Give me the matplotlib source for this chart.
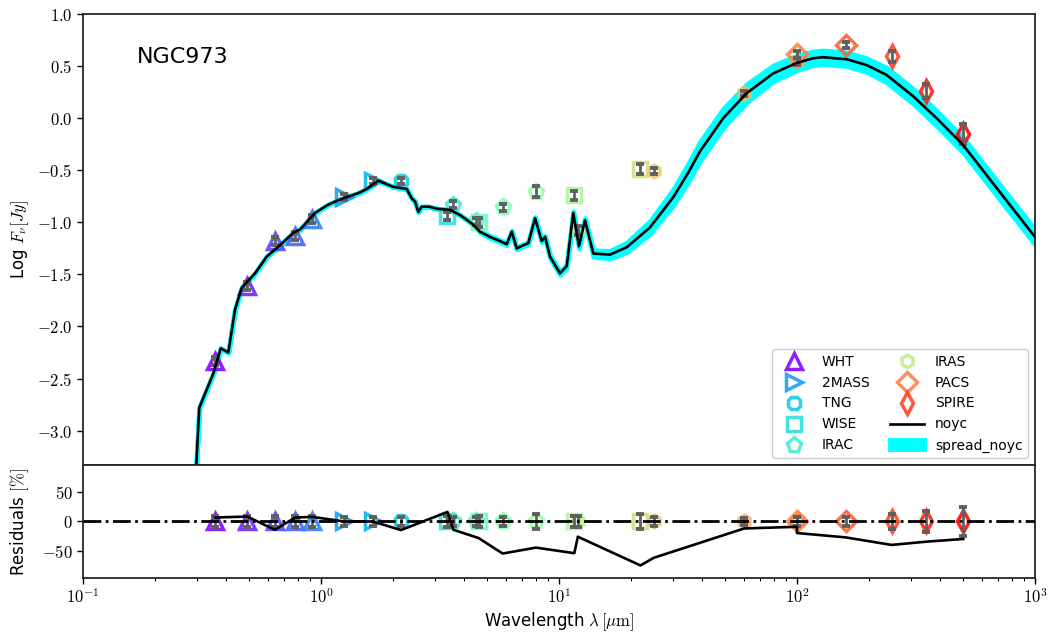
import numpy as np
import matplotlib
matplotlib.use("Agg")
import matplotlib.pyplot as plt
from matplotlib.ticker import FixedLocator, FuncFormatter, LogLocator, NullFormatter

plt.rcParams["mathtext.fontset"] = "cm"
plt.rcParams["font.family"] = "DejaVu Sans"

# photometry (wavelength in micron, log flux in Jy, error in percent)
phot_wave = [0.36, 0.49, 0.64, 0.78, 0.92, 1.25, 1.65, 2.17,
             3.4, 3.6, 4.5, 4.6, 5.8, 8.0, 11.6, 12.0, 22.0, 25.0,
             60.0, 100.0, 100.0, 160.0, 250.0, 350.0, 500.0]
phot_logf = [-2.33, -1.61, -1.18, -1.13, -0.97, -0.76, -0.60, -0.60,
             -0.94, -0.83, -0.99, -1.00, -0.855, -0.705, -0.74, -1.08, -0.49, -0.51,
             0.24, 0.545, 0.615, 0.70, 0.595, 0.26, -0.155]
phot_err = [10, 10, 10, 10, 10, 7, 7, 7,
            10, 8, 8, 10, 8, 12, 10, 10, 12, 7,
            6, 8, 8, 7, 13, 17, 25]
phot_inst = ["WHT", "WHT", "WHT", "WHT", "WHT", "2MASS", "2MASS", "TNG",
             "WISE", "IRAC", "IRAC", "WISE", "IRAC", "IRAC", "WISE", "IRAS", "WISE", "IRAS",
             "IRAS", "IRAS", "PACS", "PACS", "SPIRE", "SPIRE", "SPIRE"]
# residual of the model at each photometric point (percent)
model_resid = [6.7, 8.3, -13.9, 6.7, 7.8, 0.0, 0.0, -14.4,
               16.1, -13.9, -26.7, -28.0, -53.9, -43.9, -53.3, -25.6, -73.9, -61.1,
               -11.7, -8.9, -19.4, -26.7, -39.4, -33.9, -29.4]

instruments = ["WHT", "2MASS", "TNG", "WISE", "IRAC", "IRAS", "PACS", "SPIRE"]
inst_marker = {"WHT": "^", "2MASS": ">", "TNG": "8", "WISE": "s",
               "IRAC": "p", "IRAS": "h", "PACS": "D", "SPIRE": "d"}
inst_size = {"WHT": 11, "2MASS": 11, "TNG": 10, "WISE": 10,
             "IRAC": 11, "IRAS": 9, "PACS": 10, "SPIRE": 11}

# best-fit model "noyc"
model_wave = [0.295, 0.308, 0.353, 0.379, 0.408, 0.435, 0.464, 0.528, 0.591, 0.673,
              0.765, 0.816, 0.944, 1.073, 1.202, 1.434, 1.556, 1.741, 2.013, 2.292,
              2.405, 2.483, 2.564, 2.649, 2.843, 3.072, 3.483, 3.837, 4.298, 4.656,
              5.13, 5.65, 6.03, 6.33, 6.64, 7.08, 7.43, 7.93, 8.46, 8.74,
              9.17, 10.1, 10.78, 11.48, 12.13, 12.86, 13.94, 16.38, 19.25, 24.1,
              30.2, 35.0, 39.1, 49.0, 61.5, 79.5, 99.7, 117.0, 129.0, 162.0, 196.0,
              238.0, 308.0, 386.0, 500.0, 690.0, 1000.0]
model_logf = [-3.60, -2.78, -2.45, -2.21, -2.25, -1.84, -1.63, -1.49, -1.33, -1.22,
              -1.10, -1.07, -0.91, -0.83, -0.78, -0.72, -0.68, -0.60, -0.66, -0.68,
              -0.77, -0.80, -0.90, -0.85, -0.85, -0.87, -0.88, -0.93, -1.01, -1.09,
              -1.14, -1.18, -1.21, -1.09, -1.25, -1.22, -1.20, -0.96, -1.18, -1.14,
              -1.33, -1.49, -1.42, -0.91, -1.23, -0.98, -1.30, -1.31, -1.24, -1.05,
              -0.76, -0.52, -0.32, 0.00, 0.24, 0.43, 0.53, 0.575, 0.585, 0.565, 0.51,
              0.415, 0.21, 0.00, -0.26, -0.67, -1.14]
model_spread = [0.0, 0.0, 0.0, 0.0, 0.0, 0.0, 0.0, 0.0, 0.0, 0.0,
                0.0, 0.0, 0.0, 0.0, 0.0, 0.0, 0.0, 0.0, 0.0, 0.0,
                0.0, 0.0, 0.0, 0.0, 0.0, 0.0, 0.0, 0.0, 0.005, 0.005,
                0.01, 0.01, 0.01, 0.01, 0.01, 0.01, 0.01, 0.01, 0.01, 0.01,
                0.015, 0.015, 0.015, 0.015, 0.02, 0.02, 0.03, 0.035, 0.045, 0.06,
                0.075, 0.085, 0.09, 0.09, 0.085, 0.075, 0.07, 0.065, 0.065, 0.065, 0.065,
                0.07, 0.07, 0.07, 0.07, 0.07, 0.07]

phot_wave = np.array(phot_wave)
phot_logf = np.array(phot_logf)
phot_err = np.array(phot_err, dtype=float)
model_wave = np.array(model_wave)
model_logf = np.array(model_logf)
model_spread = np.array(model_spread)

n_phot = len(phot_wave)
colors = plt.cm.rainbow(np.linspace(0, 1, n_phot))
err_dex = np.log10(1 + phot_err / 100.0)

fig = plt.figure(figsize=(10.52, 6.33), dpi=100)
ax = fig.add_axes([0.0789, 0.2654, 0.9049, 0.7125])
axr = fig.add_axes([0.0789, 0.0869, 0.9049, 0.1785], sharex=ax)

handles = {}
for i in range(n_phot):
    inst = phot_inst[i]
    for a, yv, ye in ((ax, phot_logf[i], err_dex[i]), (axr, 0.0, phot_err[i])):
        h, = a.plot(phot_wave[i], yv, linestyle="none", marker=inst_marker[inst],
                    ms=inst_size[inst], mfc="none", mec=colors[i], mew=2.5,
                    alpha=0.88, zorder=3)
        a.errorbar(phot_wave[i], yv, yerr=ye, fmt="none", ecolor="#606060",
                   elinewidth=2, capsize=2.8, capthick=2.8, zorder=4)
        if a is ax and inst not in handles:
            handles[inst] = h

band = ax.fill_between(model_wave, model_logf - model_spread, model_logf + model_spread,
                       color="cyan", lw=3.5, edgecolor="cyan", zorder=2,
                       label="spread_noyc")
line, = ax.plot(model_wave, model_logf, color="black", lw=1.9, zorder=5, label="noyc")

axr.axhline(0, color="black", lw=2, linestyle="-.", zorder=5)
axr.plot(phot_wave, model_resid, color="black", lw=1.9, zorder=5)

ax.text(0.057, 0.905, "NGC973", transform=ax.transAxes, fontsize=16,
        ha="left", va="center")

leg_handles = [handles[k] for k in instruments] + [line, band]
leg_labels = instruments + ["noyc", "spread_noyc"]
ax.legend(leg_handles, leg_labels, ncol=2, loc="lower right", fontsize=10,
          framealpha=1, edgecolor="#cccccc", borderaxespad=0.5, columnspacing=1.5,
          handlelength=2.4)

ax.set_xscale("log")
ax.set_xlim(0.1, 1000)
ax.set_ylim(-3.33, 1.0)
axr.set_ylim(-95, 95)

ax.yaxis.set_major_locator(FixedLocator([-3.0, -2.5, -2.0, -1.5, -1.0, -0.5, 0.0, 0.5, 1.0]))
ax.yaxis.set_major_formatter(FuncFormatter(lambda v, p: r"$%.1f$" % v))
axr.yaxis.set_major_locator(FixedLocator([-50, 0, 50]))
axr.yaxis.set_major_formatter(FuncFormatter(lambda v, p: r"$%d$" % v))
axr.xaxis.set_major_locator(LogLocator(base=10, numticks=10))
axr.xaxis.set_minor_locator(LogLocator(base=10, subs=np.arange(2, 10), numticks=10))
axr.xaxis.set_major_formatter(FuncFormatter(lambda v, p: r"$10^{%d}$" % round(np.log10(v))))
axr.xaxis.set_minor_formatter(NullFormatter())

ax.tick_params(axis="x", which="both", bottom=False, labelbottom=False)
for a in (ax, axr):
    a.tick_params(axis="y", direction="out", length=4, width=1, labelsize=12)
    for s in a.spines.values():
        s.set_linewidth(1.3)
        s.set_color("#262626")
axr.tick_params(axis="x", which="major", direction="out", length=4, width=1, labelsize=12)
axr.tick_params(axis="x", which="minor", direction="out", length=2.5, width=0.8)

ax.set_ylabel(r"Log $F_{\nu}[Jy]$", fontsize=12)
axr.set_ylabel(r"Residuals $[\%]$", fontsize=12)
axr.set_xlabel(r"Wavelength $\lambda\,[\mu\mathrm{m}]$", fontsize=12, labelpad=2)
ax.yaxis.set_label_coords(-0.055, 0.5)
axr.yaxis.set_label_coords(-0.055, 0.5)

fig.savefig("out.png", dpi=100)
